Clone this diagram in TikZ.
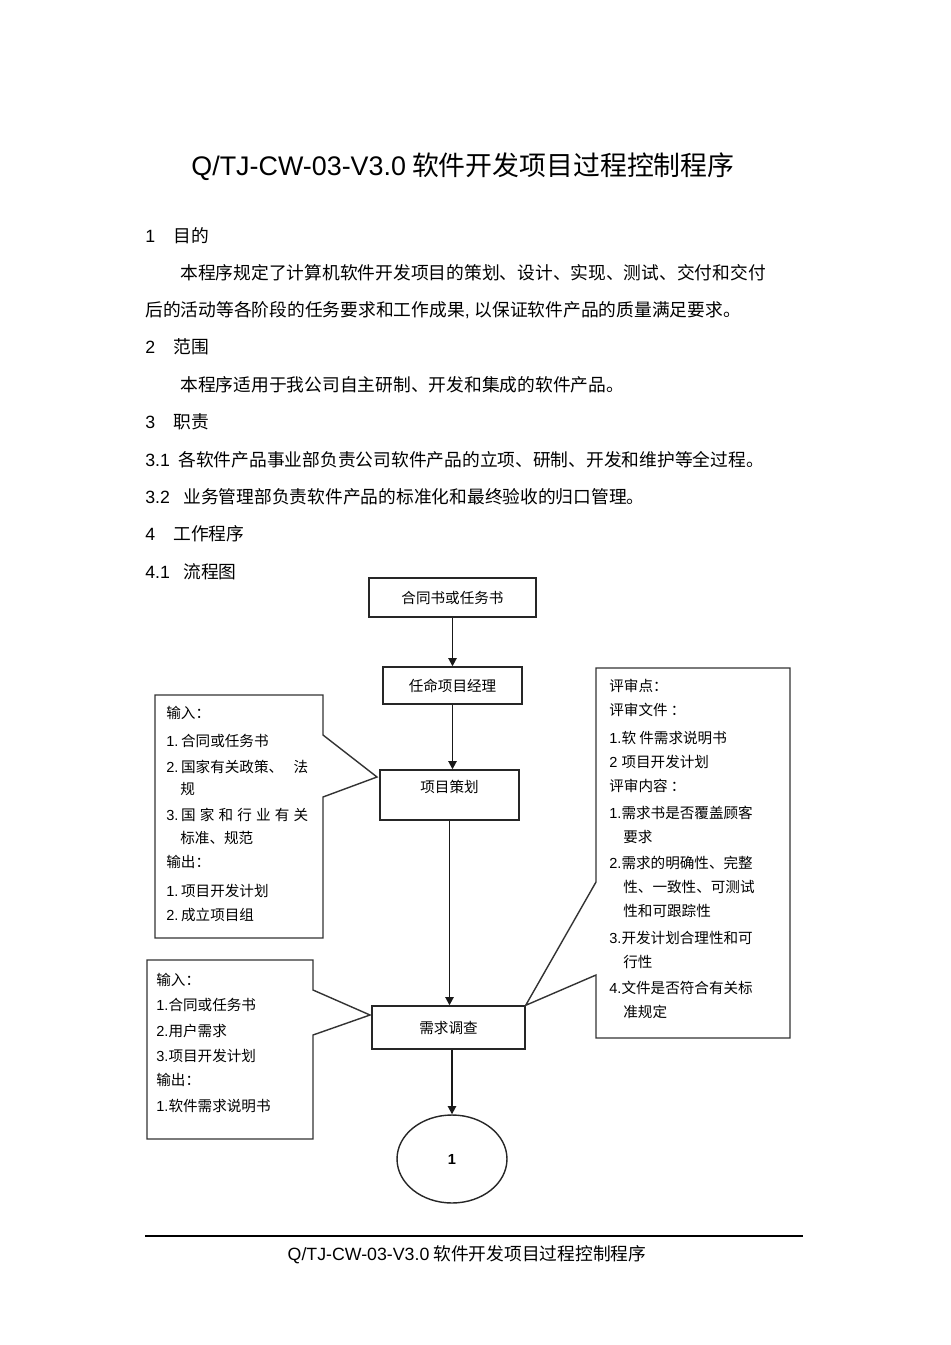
\documentclass[tikz,border=0pt]{standalone}
\usepackage{fontspec}
\setmainfont{Noto Sans CJK SC}
\newfontfamily\lat{Liberation Sans}
\usetikzlibrary{arrows.meta,shapes.geometric}
\newcommand\lt[1]{{\lat #1}}
\newcommand\dfont{\fontsize{8.3}{10}\selectfont}
\newcommand\bfont{\fontsize{10.1}{12}\selectfont}
\begin{document}
\begin{tikzpicture}[x=0.02cm,y=-0.02cm,
  box/.style={draw=black!85, line width=0.8pt, fill=white, inner sep=0pt, font=\dfont},
  arr/.style={-{Triangle[length=4.6pt,width=4.6pt]}, line width=1pt, draw=black!90},
  co/.style={draw=black!80, line width=0.8pt, line join=miter},
  txt/.style={anchor=west, inner sep=0pt, font=\dfont},
  body/.style={anchor=west, inner sep=0pt, font=\bfont}]
\fill[white] (0,0) rectangle (950,1345);
\useasboundingbox (0,0) rectangle (950,1345);

% title
\node[inner sep=0pt, font=\fontsize{15.3}{18}\selectfont] (title) at (463,167) {\lt{Q/TJ-CW-03-V3.0} 软件开发项目过程控制程序};

% body
\node[body] (s1) at (145,236) {\makebox[0.56cm][l]{\lt{1}}目的};
\node[body] (p1) at (180,273) {本程序规定了计算机软件开发项目的策划、设计、实现、测试、交付和交付};
\node[body] (p2) at (145,310) {后的活动等各阶段的任务要求和工作成果\lt{, }以保证软件产品的质量满足要求。};
\node[body] (s2) at (145,347) {\makebox[0.56cm][l]{\lt{2}}范围};
\node[body] (p3) at (180,385) {本程序适用于我公司自主研制、开发和集成的软件产品。};
\node[body] (s3) at (145,422) {\makebox[0.56cm][l]{\lt{3}}职责};
\node[body] (s31) at (145,460) {\makebox[0.66cm][l]{\lt{3.1}}各软件产品事业部负责公司软件产品的立项、研制、开发和维护等全过程。};
\node[body] (s32) at (145,497) {\makebox[0.76cm][l]{\lt{3.2}}业务管理部负责软件产品的标准化和最终验收的归口管理。};
\node[body] (s4) at (145,534) {\makebox[0.56cm][l]{\lt{4}}工作程序};
\node[body] (s41) at (145,572) {\makebox[0.76cm][l]{\lt{4.1}}流程图};

% callouts
\draw[co, fill=white] (155,695) -- (323,695) -- (323,735) -- (377,777) -- (323,797) -- (323,938) -- (155,938) -- cycle;
\draw[co, fill=white] (147,960) -- (313,960) -- (313,990) -- (370,1015) -- (313,1035) -- (313,1139) -- (147,1139) -- cycle;

% flow boxes
\node[box, minimum width=3.34cm, minimum height=0.78cm] (src) at (452.5,597.5) {合同书或任务书};
\node[box, minimum width=2.78cm, minimum height=0.74cm] (pm) at (452.5,685.5) {任命项目经理};
\node[box, minimum width=2.78cm, minimum height=1.0cm,
      label={[anchor=center, inner sep=0pt, yshift=-0.36cm, font=\dfont]north:项目策划}] (plan) at (449.5,795) {};
\node[box, minimum width=3.06cm, minimum height=0.86cm] (req) at (448.5,1027.5) {需求调查};
\node[box, ellipse, minimum width=2.2cm, minimum height=1.76cm] (circ) at (452,1159) {\lt{\textbf{1}}};

\draw[co, fill=white] (596,668) -- (790,668) -- (790,1038) -- (596,1038) -- (596,975) -- (req.north east) -- (596,882) -- cycle;

% arrows
\draw[arr] (src) -- (pm);
\draw[arr] (pm.south) -- (pm.south |- plan.north);
\draw[arr] (plan.south) -- (plan.south |- req.north);
\draw[arr] (req.south -| circ.north) -- (circ.north);

% callout 1 text
\node[txt] (a1) at (166,713) {输入：};
\node[txt] (a2) at (166,741) {\lt{1.}\hspace{1.5pt}合同或任务书};
\node[txt] (a3) at (166,767) {\makebox[2.84cm][l]{\lt{2.}\hspace{1.5pt}国家有关政策、\hfill 法}};
\node[txt] (a4) at (180,789) {规};
\node[txt] (a5) at (166,815) {\makebox[2.84cm][s]{\lt{3.}\hspace{1.5pt}国\hfill 家\hfill 和\hfill 行\hfill 业\hfill 有\hfill 关}};
\node[txt] (a6) at (180,838) {标准、规范};
\node[txt] (a7) at (166,862) {输出：};
\node[txt] (a8) at (166,891) {\lt{1.}\hspace{1.5pt}项目开发计划};
\node[txt] (a9) at (166,915) {\lt{2.}\hspace{1.5pt}成立项目组};

% callout 2 text
\node[txt] (b1) at (156,980) {输入：};
\node[txt] (b2) at (156,1005) {\lt{1.}合同或任务书};
\node[txt] (b3) at (156,1031) {\lt{2.}用户需求};
\node[txt] (b4) at (156,1056) {\lt{3.}项目开发计划};
\node[txt] (b5) at (156,1080) {输出：};
\node[txt] (b6) at (156,1106) {\lt{1.}软件需求说明书};

% right callout text
\node[txt] (c1) at (609,686) {评审点：};
\node[txt] (c2) at (609,710) {评审文件 ：};
\node[txt] (c3) at (609,738) {\lt{1.}软 件需求说明书};
\node[txt] (c4) at (609,762) {\lt{2 }项目开发计划};
\node[txt] (c5) at (609,786) {评审内容 ：};
\node[txt] (c6) at (609,813) {\lt{1.}需求书是否覆盖顾客};
\node[txt] (c7) at (623,837) {要求};
\node[txt] (c8) at (609,863) {\lt{2.}需求的明确性、完整};
\node[txt] (c9) at (623,887) {性、一致性、可测试};
\node[txt] (c10) at (623,911) {性和可跟踪性};
\node[txt] (c11) at (609,938) {\lt{3.}开发计划合理性和可};
\node[txt] (c12) at (623,962) {行性};
\node[txt] (c13) at (609,988) {\lt{4.}文件是否符合有关标};
\node[txt] (c14) at (623,1012) {准规定};

% footer
\draw[line width=0.6pt] (145,1236) -- (803,1236);
\node[inner sep=0pt, font=\bfont] (foot) at (467,1255) {\lt{Q/TJ-CW-03-V3.0} 软件开发项目过程控制程序};
\end{tikzpicture}
\end{document}
